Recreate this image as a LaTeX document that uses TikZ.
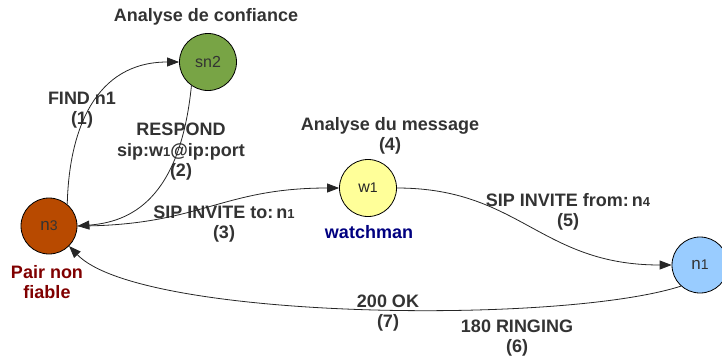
\documentclass[tikz,border=0pt]{standalone}
\usepackage{fontspec}
\setmainfont{Liberation Sans}
\usetikzlibrary{arrows.meta}
\definecolor{txt}{HTML}{333333}
\definecolor{greenn}{HTML}{78A445}
\definecolor{brownn}{HTML}{B84A00}
\definecolor{yelln}{HTML}{FFFF99}
\definecolor{bluen}{HTML}{99CCFF}
\definecolor{darkred}{HTML}{800000}
\definecolor{darkblue}{HTML}{000080}
\newcommand{\sdig}[1]{{\fontsize{13}{13}\selectfont #1}}
\newcommand{\ndig}[1]{{\fontsize{14}{14}\selectfont #1}}
\tikzset{
  state/.style={circle, draw=black, line width=0.8pt, minimum size=57pt, inner sep=0pt,
    text=txt, font=\fontsize{16}{16}\selectfont},
  lbl/.style={font=\bfseries\fontsize{18}{20.5}\selectfont, text=txt, align=center, inner sep=0pt},
  conn/.style={draw=black!85, line width=0.8pt, -{Triangle[length=12pt,width=9pt]}},
}
\begin{document}
\begin{tikzpicture}[x=1pt,y=-1pt]
\useasboundingbox (0,0) rectangle (722,360);
\node[state, fill=greenn] (sn2) at (208,62) {sn2};
\node[state, fill=brownn, minimum size=56pt, font=\fontsize{17}{17}\selectfont] (n3) at (49,226) {n\ndig{3}};
\node[state, fill=yelln, text=black!85, font=\fontsize{16}{16}\selectfont] (w1) at (368,188) {w\ndig{1}};
\node[state, fill=bluen, minimum size=56pt, font=\fontsize{17}{17}\selectfont] (n1) at (700,265) {n\ndig{1}};

\node[lbl] (t0) at (206,17) {Analyse de confiance};
\node[lbl] (t1) at (82,110) {FIND n1\\(1)};
\node[lbl] (t2) at (181,152) {RESPOND\\sip:w\sdig{1}@ip:port\\(2)};
\node[lbl] (t3) at (224,224) {SIP INVITE to:\,n\sdig{1}\\(3)};
\node[lbl] (t4) at (390,136) {Analyse du message\\(4)};
\node[lbl, text=darkblue] (tw) at (369,232) {watchman};
\node[lbl, text=darkred] (tp) at (47,282) {Pair non\\fiable};
\node[lbl] (t5) at (568,212) {SIP INVITE from:\,n\sdig{4}\\(5)};
\node[lbl] (t7) at (388,313) {200 OK\\(7)};
\node[lbl] (t6) at (517,338) {180 RINGING\\(6)};

\draw[conn] (n3.50) .. controls (69,130) and (95,62) .. (sn2.west);
\draw[conn] (sn2.235) .. controls (180,200) and (130,222) .. (n3.east);
\draw[conn] (n3.east) .. controls (200,226) and (220,188) .. (w1.west);
\draw[conn] (w1.east) .. controls (520,188) and (540,265) .. (n1.west);
\draw[conn] (n1.228) .. controls (560,325) and (140,320) .. (n3.-45);
\end{tikzpicture}
\end{document}
